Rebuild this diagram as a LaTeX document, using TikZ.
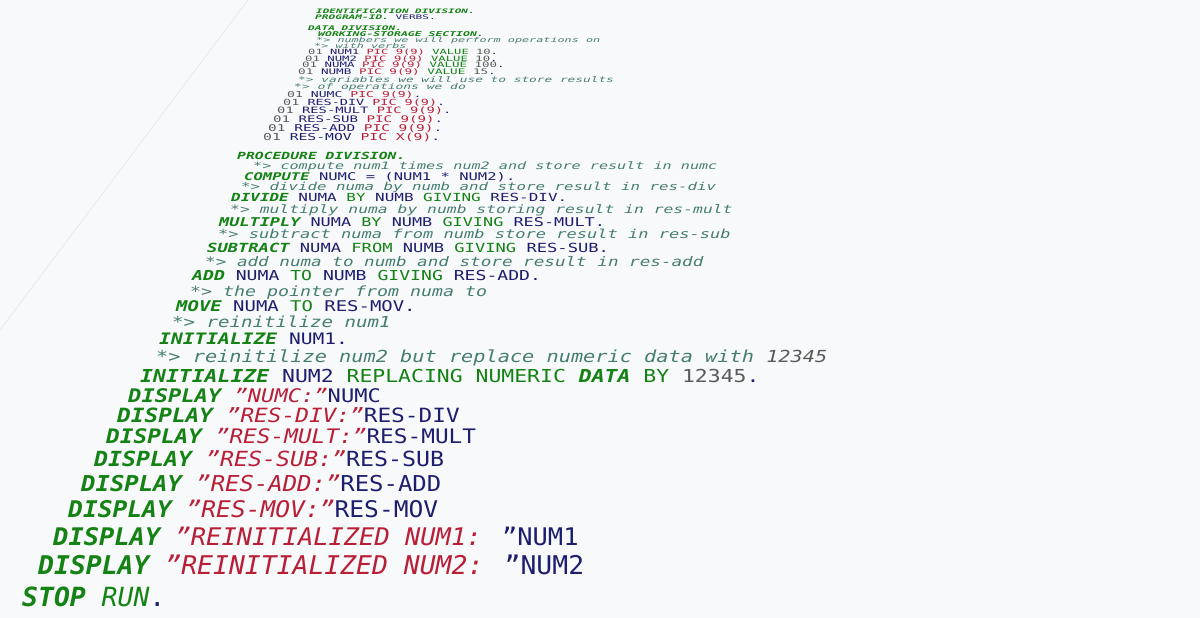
\documentclass[tikz,border=0pt]{standalone}
\usepackage{fontspec}
\setmainfont{DejaVu Sans Mono}
\definecolor{kwc}{RGB}{20,130,20}
\definecolor{cmc}{RGB}{70,125,115}
\definecolor{stc}{RGB}{185,30,55}
\definecolor{idc}{RGB}{30,30,110}
\definecolor{nmc}{RGB}{90,90,90}
\definecolor{bgc}{RGB}{248,249,250}
\newcommand{\kw}[1]{{\color{kwc}\bfseries\itshape #1}}
\newcommand{\kn}[1]{{\color{kwc}#1}}
\newcommand{\cm}[1]{{\color{cmc}\itshape #1}}
\newcommand{\st}[1]{{\color{stc}\itshape #1}}
\newcommand{\pc}[1]{{\color{stc}#1}}
\newcommand{\nm}[1]{{\color{nmc}#1}}
\newcommand{\cl}[4]{\pgfmathsetmacro{\ys}{0.55+0.45*#2/604}\pgfmathsetmacro{\fs}{#3/0.602}%
\node[anchor=mid west,inner sep=0,transform shape,yscale=\ys,text=idc,font=\fontsize{\fs}{\fs}\selectfont] at (#1,-#2) {#4};}
\begin{document}
\begin{tikzpicture}[x=1pt,y=1pt]
\fill[bgc] (0,0) rectangle (1200,-618);
\useasboundingbox (0,0) rectangle (1200,-618);
\draw[black!12] (0,-330) -- (248,0);
\cl{316}{12}{6.6}{\kw{IDENTIFICATION DIVISION.}}
\cl{315}{18}{6.7}{\kw{PROGRAM-ID.} VERBS.}
\cl{308}{29}{6.7}{\kw{DATA DIVISION.}}
\cl{318}{35}{6.9}{\kw{WORKING-STORAGE SECTION.}}
\cl{316}{41}{7.1}{\cm{*> numbers we will perform operations on}}
\cl{314}{47}{7.1}{\cm{*> with verbs}}
\cl{308}{53}{7.3}{\nm{01} NUM1 \pc{PIC 9(9)} \kn{VALUE} \nm{10}.}
\cl{305}{60}{7.4}{\nm{01} NUM2 \pc{PIC 9(9)} \kn{VALUE} \nm{10}.}
\cl{302}{66}{7.5}{\nm{01} NUMA \pc{PIC 9(9)} \kn{VALUE} \nm{100}.}
\cl{298}{73}{7.6}{\nm{01} NUMB \pc{PIC 9(9)} \kn{VALUE} \nm{15}.}
\cl{298}{81}{7.7}{\cm{*> variables we will use to store results}}
\cl{294}{88}{7.8}{\cm{*> of operations we do}}
\cl{287}{96}{7.9}{\nm{01} NUMC \pc{PIC 9(9)}.}
\cl{283}{104}{8.1}{\nm{01} RES-DIV \pc{PIC 9(9)}.}
\cl{277}{112}{8.3}{\nm{01} RES-MULT \pc{PIC 9(9)}.}
\cl{273}{121}{8.5}{\nm{01} RES-SUB \pc{PIC 9(9)}.}
\cl{268}{130}{8.7}{\nm{01} RES-ADD \pc{PIC 9(9)}.}
\cl{263}{139}{8.85}{\nm{01} RES-MOV \pc{PIC X(9)}.}
\cl{237}{158}{8.85}{\kw{PROCEDURE DIVISION.}}
\cl{253}{168}{9.1}{\cm{*> compute num1 times num2 and store result in numc}}
\cl{244}{179}{9.35}{\kw{COMPUTE} NUMC = (NUM1 * NUM2).}
\cl{241}{189}{9.5}{\cm{*> divide numa by numb and store result in res-div}}
\cl{231}{200}{9.6}{\kw{DIVIDE} NUMA \kn{BY} NUMB \kn{GIVING} RES-DIV.}
\cl{230}{212}{9.85}{\cm{*> multiply numa by numb storing result in res-mult}}
\cl{219}{225}{10.15}{\kw{MULTIPLY} NUMA \kn{BY} NUMB \kn{GIVING} RES-MULT.}
\cl{218}{237}{10.25}{\cm{*> subtract numa from numb store result in res-sub}}
\cl{207}{250}{10.3}{\kw{SUBTRACT} NUMA \kn{FROM} NUMB \kn{GIVING} RES-SUB.}
\cl{205}{264}{10.6}{\cm{*> add numa to numb and store result in res-add}}
\cl{192}{278}{10.9}{\kw{ADD} NUMA \kn{TO} NUMB \kn{GIVING} RES-ADD.}
\cl{190}{294}{11}{\cm{*> the pointer from numa to}}
\cl{176}{309}{11.4}{\kw{MOVE} NUMA \kn{TO} RES-MOV.}
\cl{172}{325}{11.5}{\cm{*> reinitilize num1}}
\cl{159}{342}{11.8}{\kw{INITIALIZE} NUM1.}
\cl{156}{360}{12.2}{\cm{*> reinitilize num2 but replace numeric data with \nm{12345}}}
\cl{140}{380}{12.9}{\kw{INITIALIZE} NUM2 \kn{REPLACING NUMERIC} \kw{DATA} \kn{BY} \nm{12345}.}
\cl{128}{400}{13.3}{\kw{DISPLAY} \st{"NUMC:"}NUMC}
\cl{117}{420}{13.7}{\kw{DISPLAY} \st{"RES-DIV:"}RES-DIV}
\cl{106}{441}{13.7}{\kw{DISPLAY} \st{"RES-MULT:"}RES-MULT}
\cl{94}{464}{14}{\kw{DISPLAY} \st{"RES-SUB:"}RES-SUB}
\cl{81}{489}{14.4}{\kw{DISPLAY} \st{"RES-ADD:"}RES-ADD}
\cl{68}{515}{14.8}{\kw{DISPLAY} \st{"RES-MOV:"}RES-MOV}
\cl{53}{543}{15.3}{\kw{DISPLAY} \st{"REINITIALIZED NUM1: }"NUM1}
\cl{38}{572}{15.9}{\kw{DISPLAY} \st{"REINITIALIZED NUM2: }"NUM2}
\cl{22}{604}{15.9}{\kw{STOP} \kn{\itshape RUN}.}
\end{tikzpicture}
\end{document}
